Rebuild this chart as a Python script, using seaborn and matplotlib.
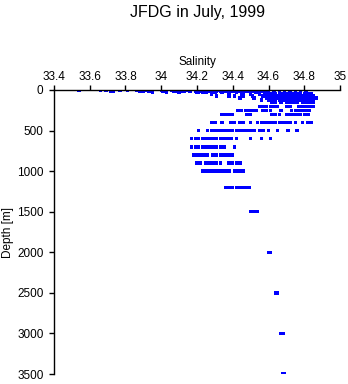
import matplotlib
matplotlib.use("Agg")
import matplotlib.pyplot as plt
import numpy as np
import pandas as pd
import seaborn as sns

# Salinity readings (PSU) grouped by sampling depth (m)
sal_0 = [33.54, 33.66, 33.69, 33.72, 33.77, 33.81, 33.86, 33.90, 33.92, 34.00,
         34.06, 34.08, 34.10, 34.12, 34.15, 34.20, 34.22, 34.24, 34.26, 34.28,
         34.30, 34.32, 34.34, 34.36, 34.38, 34.40, 34.42, 34.44, 34.46, 34.50,
         34.54, 34.58]
sal_10 = [33.72, 33.90, 33.93, 34.01, 34.07, 34.09, 34.11, 34.13, 34.16, 34.19,
          34.21, 34.23, 34.25, 34.27, 34.29, 34.31, 34.33, 34.35, 34.37, 34.39,
          34.41, 34.43, 34.45, 34.48, 34.52, 34.56]
sal_20 = [33.73, 33.88, 33.94, 34.08, 34.12, 34.20, 34.22, 34.24, 34.26, 34.28,
          34.30, 34.33, 34.36, 34.40, 34.44, 34.47, 34.50, 34.55, 34.59]
sal_30 = [33.95, 34.03, 34.10, 34.20, 34.21, 34.23, 34.25, 34.30, 34.34, 34.42,
          34.46, 34.53, 34.60, 34.63, 34.66, 34.69, 34.72, 34.75, 34.78, 34.81]
sal_50 = [34.28, 34.38, 34.45, 34.50, 34.55, 34.58, 34.62, 34.64, 34.66, 34.68,
          34.70, 34.72, 34.74, 34.76, 34.78, 34.80, 34.82, 34.84]
sal_75 = [34.31, 34.38, 34.41, 34.46, 34.51, 34.57, 34.60, 34.62, 34.65, 34.67,
          34.69, 34.71, 34.73, 34.75, 34.77, 34.79, 34.81, 34.83, 34.85]
sal_100 = [34.44, 34.52, 34.59, 34.61, 34.63, 34.65, 34.67, 34.70, 34.72, 34.74,
           34.76, 34.78, 34.80, 34.82, 34.84, 34.87]
sal_125 = [34.56, 34.60, 34.63, 34.66, 34.68, 34.71, 34.73, 34.75, 34.77, 34.79,
           34.81, 34.83, 34.85]
sal_150 = [34.62, 34.64, 34.67, 34.70, 34.72, 34.74, 34.76, 34.79, 34.81, 34.83,
           34.85]
sal_200 = [34.55, 34.57, 34.59, 34.61, 34.63, 34.65, 34.70, 34.72, 34.77, 34.79,
           34.81, 34.83, 34.85]
sal_250 = [34.43, 34.45, 34.47, 34.49, 34.51, 34.53, 34.57, 34.59, 34.61, 34.67,
           34.73, 34.75, 34.77, 34.79, 34.81, 34.83]
sal_300 = [34.34, 34.36, 34.38, 34.40, 34.48, 34.50, 34.62, 34.64, 34.66, 34.70,
           34.72, 34.74, 34.76, 34.78, 34.80, 34.82]
sal_400 = [34.28, 34.30, 34.34, 34.39, 34.41, 34.44, 34.46, 34.50, 34.54, 34.56,
           34.58, 34.60, 34.62, 34.64, 34.66, 34.68, 34.70, 34.72, 34.75, 34.79,
           34.82, 34.84]
sal_500 = [34.21, 34.26, 34.28, 34.30, 34.32, 34.34, 34.36, 34.38, 34.40, 34.42,
           34.44, 34.46, 34.48, 34.50, 34.52, 34.55, 34.57, 34.60, 34.65, 34.71,
           34.76]
sal_600 = [34.17, 34.19, 34.21, 34.23, 34.25, 34.27, 34.29, 34.31, 34.33, 34.35,
           34.37, 34.39, 34.42, 34.50, 34.56, 34.61]
sal_700 = [34.17, 34.19, 34.21, 34.23, 34.25, 34.27, 34.29, 34.31, 34.33, 34.35,
           34.41]
sal_800 = [34.18, 34.20, 34.22, 34.24, 34.26, 34.29, 34.31, 34.33, 34.35, 34.37,
           34.39, 34.40]
sal_900 = [34.20, 34.22, 34.25, 34.27, 34.29, 34.31, 34.33, 34.38, 34.40, 34.42,
           34.44]
sal_1000 = [34.23, 34.25, 34.27, 34.28, 34.30, 34.32, 34.34, 34.36, 34.38, 34.41,
            34.43, 34.45, 34.46]
sal_1200 = [34.36, 34.38, 34.40, 34.42, 34.44, 34.46, 34.47, 34.49]
sal_1500 = [34.50, 34.52, 34.54]
sal_2000 = [34.60, 34.61]
sal_2500 = [34.64, 34.65]
sal_3000 = [34.67, 34.68]
sal_3500 = [34.68, 34.69]

depth_levels = [0, 10, 20, 30, 50, 75, 100, 125, 150, 200, 250, 300, 400, 500,
                600, 700, 800, 900, 1000, 1200, 1500, 2000, 2500, 3000, 3500]
sal_by_level = [sal_0, sal_10, sal_20, sal_30, sal_50, sal_75, sal_100, sal_125,
                sal_150, sal_200, sal_250, sal_300, sal_400, sal_500, sal_600,
                sal_700, sal_800, sal_900, sal_1000, sal_1200, sal_1500,
                sal_2000, sal_2500, sal_3000, sal_3500]

x_ticks = [33.4, 33.6, 33.8, 34.0, 34.2, 34.4, 34.6, 34.8, 35.0]
x_tick_labels = ["33.4", "33.6", "33.8", "34", "34.2", "34.4", "34.6", "34.8", "35"]
y_ticks = [0, 500, 1000, 1500, 2000, 2500, 3000, 3500]

rows = []
for d, vals in zip(depth_levels, sal_by_level):
    for s in vals:
        rows.append((s, d))
df = pd.DataFrame(rows, columns=["salinity", "depth"])

sns.set_theme(style="white")
plt.rcParams["font.family"] = ["Liberation Sans", "DejaVu Sans"]

W, H = 348, 384
fig = plt.figure(figsize=(W / 100, H / 100), dpi=100)
ax = fig.add_axes([54 / W, 10 / H, 286 / W, 284 / H])

sns.scatterplot(data=df, x="salinity", y="depth", marker="s", s=6,
                color="#0000ff", edgecolor="none", linewidth=0,
                legend=False, ax=ax)

ax.set_xlim(33.4, 35.0)
ax.set_ylim(3500, 0)
ax.xaxis.tick_top()
ax.xaxis.set_label_position("top")
ax.set_xticks(x_ticks)
ax.set_xticklabels(x_tick_labels)
ax.set_yticks(y_ticks)
ax.set_yticklabels([str(v) for v in y_ticks])

for side in ("right", "bottom"):
    ax.spines[side].set_visible(False)
for side in ("left", "top"):
    ax.spines[side].set_color("black")
    ax.spines[side].set_linewidth(1.0)

ax.tick_params(axis="x", which="major", top=True, bottom=False, direction="out",
               length=3.6, width=1, color="black", labelsize=8.5, pad=1.5,
               labelcolor="black")
ax.tick_params(axis="y", which="major", left=True, direction="out",
               length=3.6, width=1, color="black", labelsize=8.5, pad=4,
               labelcolor="black")
ax.grid(False)

ax.set_xlabel("Salinity", fontsize=8.5, labelpad=4.5, color="black")
ax.set_ylabel("Depth [m]", fontsize=8.5, labelpad=2, color="black")

fig.text(197 / W, 1 - 12 / H, "JFDG in July, 1999", ha="center", va="center",
         fontsize=11.5, color="black")

fig.savefig("out.png", dpi=100, facecolor="white")
